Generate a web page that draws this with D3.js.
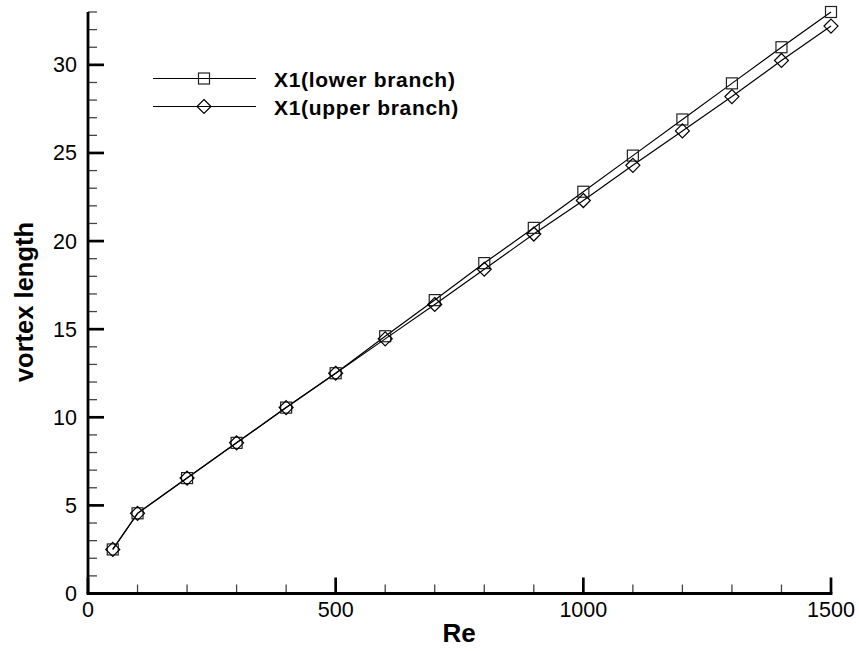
<!DOCTYPE html>
<html>
<head>
<meta charset="utf-8">
<script src="https://cdn.jsdelivr.net/npm/d3@7"></script>
<style>
  html, body { margin: 0; padding: 0; background: #fff; }
  svg { display: block; font-family: "Liberation Sans", Arial, Helvetica, sans-serif; }
</style>
</head>
<body>
<svg id="chart" width="859" height="651"></svg>
<script>
const reValues = [50, 100, 200, 300, 400, 500, 600, 700, 800, 900, 1000, 1100, 1200, 1300, 1400, 1500];
const lowerBranch = [2.5, 4.55, 6.55, 8.55, 10.55, 12.5, 14.6, 16.65, 18.75, 20.75, 22.8, 24.85, 26.9, 28.95, 31.0, 33.0];
const upperBranch = [2.5, 4.55, 6.55, 8.55, 10.55, 12.5, 14.45, 16.4, 18.4, 20.4, 22.3, 24.3, 26.25, 28.2, 30.25, 32.2];
const seriesNames = ["X1(lower branch)", "X1(upper branch)"];
const xMajorTicks = [0, 500, 1000, 1500];
const yMajorTicks = [0, 5, 10, 15, 20, 25, 30];
const xLabel = "Re";
const yLabel = "vortex length";

const svg = d3.select("#chart");
const x = d3.scaleLinear().domain([0, 1500]).range([88, 831]);
const y = d3.scaleLinear().domain([0, 33]).range([593.5, 12]);

const xMinor = d3.range(0, 1501, 100).filter(v => v % 500 !== 0);
const yMinor = d3.range(0, 33.01, 1).filter(v => v % 5 !== 0);

// minor ticks
svg.append("g").selectAll("line").data(xMinor).join("line")
  .attr("x1", d => x(d)).attr("x2", d => x(d))
  .attr("y1", y(0)).attr("y2", y(0) - 9)
  .attr("stroke", "#444").attr("stroke-width", 1.3);
svg.append("g").selectAll("line").data(yMinor).join("line")
  .attr("x1", x(0)).attr("x2", x(0) + 9)
  .attr("y1", d => y(d)).attr("y2", d => y(d))
  .attr("stroke", "#444").attr("stroke-width", 1.3);
// major ticks
svg.append("g").selectAll("line").data(xMajorTicks).join("line")
  .attr("x1", d => x(d)).attr("x2", d => x(d))
  .attr("y1", y(0)).attr("y2", y(0) - 16)
  .attr("stroke", "#000").attr("stroke-width", 2.7);
svg.append("g").selectAll("line").data(yMajorTicks).join("line")
  .attr("x1", x(0)).attr("x2", x(0) + 16)
  .attr("y1", d => y(d)).attr("y2", d => y(d))
  .attr("stroke", "#000").attr("stroke-width", 2.7);

// axis lines
svg.append("line").attr("x1", x(0)).attr("x2", x(1500)).attr("y1", y(0)).attr("y2", y(0))
  .attr("stroke", "#000").attr("stroke-width", 2.8).attr("stroke-linecap", "square");
svg.append("line").attr("x1", x(0)).attr("x2", x(0)).attr("y1", y(0)).attr("y2", y(33))
  .attr("stroke", "#000").attr("stroke-width", 2.8);

// tick labels
svg.append("g").selectAll("text").data(xMajorTicks).join("text")
  .attr("x", d => x(d)).attr("y", 617)
  .attr("text-anchor", "middle").attr("font-size", 21.5).attr("fill", "#000")
  .text(d => d);
svg.append("g").selectAll("text").data(yMajorTicks).join("text")
  .attr("x", 77).attr("y", d => y(d) + 7.5)
  .attr("text-anchor", "end").attr("font-size", 21.5).attr("fill", "#000")
  .text(d => d);

// axis titles
svg.append("text").attr("x", 459).attr("y", 642)
  .attr("text-anchor", "middle").attr("font-size", 26).attr("font-weight", "bold")
  .text(xLabel);
svg.append("text").attr("transform", "translate(33,302) rotate(-90)")
  .attr("text-anchor", "middle").attr("font-size", 25.5).attr("font-weight", "bold")
  .text(yLabel);

// series
const line = d3.line().x(d => x(d[0])).y(d => y(d[1]));
const lowerData = reValues.map((r, i) => [r, lowerBranch[i]]);
const upperData = reValues.map((r, i) => [r, upperBranch[i]]);

svg.append("path").datum(lowerData).attr("d", line)
  .attr("fill", "none").attr("stroke", "#000").attr("stroke-width", 1.2);
svg.append("path").datum(upperData).attr("d", line)
  .attr("fill", "none").attr("stroke", "#000").attr("stroke-width", 1.2);

const sq = 11;
function square(g, cx, cy) {
  g.append("rect").attr("x", cx - sq / 2).attr("y", cy - sq / 2)
    .attr("width", sq).attr("height", sq)
    .attr("fill", "none").attr("stroke", "#222").attr("stroke-width", 1.2);
}
const dr = 7;
function diamond(g, cx, cy) {
  g.append("path")
    .attr("d", `M${cx},${cy - dr}L${cx + dr},${cy}L${cx},${cy + dr}L${cx - dr},${cy}Z`)
    .attr("fill", "none").attr("stroke", "#000").attr("stroke-width", 1.2);
}
const mg = svg.append("g");
lowerData.forEach(d => square(mg, x(d[0]), y(d[1])));
upperData.forEach(d => diamond(mg, x(d[0]), y(d[1])));

// legend
const lg = svg.append("g");
const legendRows = [78.5, 106.5];
legendRows.forEach((ly, i) => {
  lg.append("line").attr("x1", 153).attr("x2", 256).attr("y1", ly).attr("y2", ly)
    .attr("stroke", "#000").attr("stroke-width", 1.2);
  if (i === 0) square(lg, 204, ly); else diamond(lg, 204, ly);
  lg.append("text").attr("x", 274).attr("y", ly + 8)
    .attr("font-size", 21).attr("font-weight", "bold").attr("letter-spacing", 0.7)
    .text(seriesNames[i]);
});
</script>
</body>
</html>
